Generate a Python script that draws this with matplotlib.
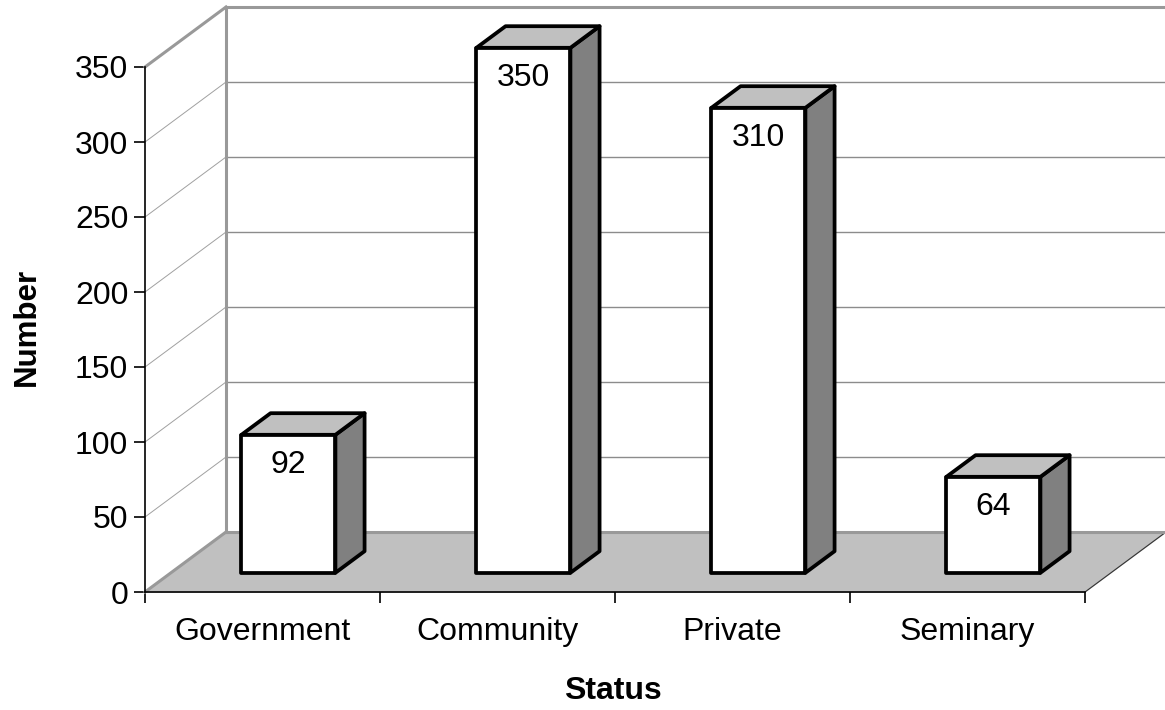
import matplotlib.pyplot as plt
import numpy as np

plt.rcParams['font.family'] = ['Liberation Sans', 'DejaVu Sans']

categories = ['Government', 'Community', 'Private', 'Seminary']
values = [92, 350, 310, 64]
yticks = [0, 50, 100, 150, 200, 250, 300, 350]

# depth of the 3d box in data units (x in category units, y in value units)
ddx = 81 / 235
ddy = 40
ymax = 350
ncat = len(categories)

fig = plt.figure(figsize=(11.65, 7.10), dpi=100)
ax = fig.add_axes([145 / 1165, 118 / 710, 940 / 1165, 525 / 710])
ax.set_xlim(0, ncat)
ax.set_ylim(0, ymax)

wall = '#999999'
grid = '#8c8c8c'

# floor
ax.fill([0, ncat, ncat + ddx, ddx], [0, 0, ddy, ddy], color='#c0c0c0', zorder=1, clip_on=False)
ax.plot([ncat, ncat + ddx], [0, ddy], color='#333333', lw=0.8, zorder=2, clip_on=False)

# gridlines on back and side walls
for v in yticks[1:-1]:
    ax.plot([ddx, ncat + ddx], [v + ddy, v + ddy], color=grid, lw=1.0, zorder=1, clip_on=False)
    ax.plot([0, ddx], [v, v + ddy], color='#a0a0a0', lw=0.7, zorder=1, clip_on=False)

# wall edges
ax.plot([0, ddx], [0, ddy], color=wall, lw=2.2, zorder=2, clip_on=False)
ax.plot([0, ddx], [ymax, ymax + ddy], color=wall, lw=2.2, zorder=2, clip_on=False)
ax.plot([ddx, ddx], [ddy, ymax + ddy], color=wall, lw=2.2, zorder=2, clip_on=False)
ax.plot([ddx, ncat + ddx], [ymax + ddy, ymax + ddy], color=wall, lw=2.2, zorder=2, clip_on=False)
ax.plot([ddx, ncat + ddx], [ddy, ddy], color=wall, lw=2.2, zorder=2, clip_on=False)
ax.plot([ncat + ddx, ncat + ddx], [ddy, ymax + ddy], color='#d0d0d0', lw=1.0, zorder=1, clip_on=False)

# bars
bw = 0.4
f0, f1 = 0.32, 0.68
for i, (cat, val) in enumerate(zip(categories, values)):
    x0 = i + 0.5 - bw / 2 + f0 * ddx
    x1 = x0 + bw
    y0 = f0 * ddy
    y1 = y0 + val
    bx = (f1 - f0) * ddx
    by = (f1 - f0) * ddy
    kw = dict(edgecolor='black', lw=2.7, joinstyle='round', clip_on=False)
    ax.fill([x1, x1 + bx, x1 + bx, x1], [y0, y0 + by, y1 + by, y1], facecolor='#808080', zorder=3, **kw)
    ax.fill([x0, x1, x1 + bx, x0 + bx], [y1, y1, y1 + by, y1 + by], facecolor='#c0c0c0', zorder=3, **kw)
    ax.fill([x0, x1, x1, x0], [y0, y0, y1, y1], facecolor='white', zorder=4, **kw)
    ax.text((x0 + x1) / 2, y1 - 20, str(val), ha='center', va='center', fontsize=23, zorder=5)

# axes
for s in ['top', 'right']:
    ax.spines[s].set_visible(False)
ax.spines['left'].set_linewidth(1.2)
ax.spines['bottom'].set_linewidth(1.2)
ax.spines['left'].set_zorder(6)
ax.spines['bottom'].set_zorder(6)
ax.set_yticks(yticks)
ax.set_yticklabels([str(v) for v in yticks], fontsize=23)
ax.tick_params(axis='y', direction='out', length=8, width=1.2, pad=4)
ax.set_xticks(np.arange(ncat + 1))
ax.set_xticklabels([])
ax.tick_params(axis='x', which='major', direction='out', length=8, width=1.2)
ax.set_xticks(np.arange(ncat) + 0.5, minor=True)
ax.set_xticklabels(categories, minor=True, fontsize=23)
ax.tick_params(axis='x', which='minor', length=0, pad=18)
ax.patch.set_visible(False)

fig.text(27 / 1165, 1 - 327 / 710, 'Number', rotation=90, ha='center', va='center',
         fontsize=22.5, fontweight='bold')
fig.text(613 / 1165, 1 - 691 / 710, 'Status', ha='center', va='center',
         fontsize=23, fontweight='bold')

fig.savefig('out.png', dpi=100)
